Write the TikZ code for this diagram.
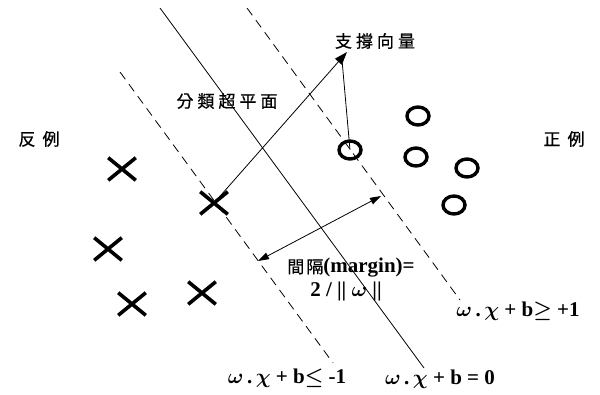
\documentclass[tikz,border=0pt]{standalone}
\usepackage{bm}
\usepackage{fontspec}
\setmainfont{Liberation Serif}
\newfontfamily\cjk[FakeBold=0.6]{Noto Sans CJK TC}
\usetikzlibrary{shapes.misc,shapes.geometric,arrows.meta}
\newcommand{\cjkgap}{\hspace{4pt}}
\newcommand{\bw}{$\bm{\omega}$}
\newcommand{\bx}{$\bm{\chi}$}
\begin{document}
\begin{tikzpicture}[x=1pt,y=-1pt,
  negpt/.style={cross out,draw,line width=3.6pt,minimum width=24pt,minimum height=19pt,inner sep=0pt},
  pospt/.style={ellipse,draw,line width=3.4pt,minimum width=22pt,minimum height=18pt,inner sep=0pt},
  hyper/.style={line width=0.8pt},
  dashhyper/.style={line width=0.8pt,dash pattern=on 9pt off 6pt},
  cjklab/.style={font=\cjk\fontsize{17}{19}\selectfont,inner sep=0pt},
  eqlab/.style={font=\bfseries\fontsize{21}{23}\selectfont,inner sep=0pt},
  thinarrow/.style={line width=0.8pt}]
\useasboundingbox (0,0) rectangle (600,394);
% hyperplanes
\coordinate (s1) at (160,8);
\coordinate (s2) at (424,368);
\coordinate (r1) at (247,8);
\coordinate (r2) at (460,300);
\coordinate (l1) at (120,72);
\coordinate (l2) at (333,363);
\draw[hyper] (s1) -- (s2);
\draw[dashhyper] (r1) -- (r2);
\draw[dashhyper] (l1) -- (l2);
% negative samples
\node[negpt] (n1) at (122,169) {};
\node[negpt] (n2) at (214,203) {};
\node[negpt] (n3) at (108,249) {};
\node[negpt] (n4) at (132,304) {};
\node[negpt] (n5) at (202,293) {};
% positive samples
\node[pospt] (p1) at (418,116) {};
\node[pospt] (p2) at (416,157) {};
\node[pospt] (p3) at (467,168) {};
\node[pospt] (p4) at (454,205) {};
\node[pospt] (p5) at (350,150) {};
% labels
\node[cjklab] (sv) at (375,41) {支\cjkgap 撐\cjkgap 向\cjkgap 量};
\node[cjklab] (hp) at (227,101) {分\cjkgap 類\cjkgap 超\cjkgap 平\cjkgap 面};
\node[cjklab] (neg) at (39,139) {反\hspace{7pt}例};
\node[cjklab] (pos) at (564,139) {正\hspace{7pt}例};
\node[inner sep=0pt] (mg1) at (351,268) {{\cjk\fontsize{17}{19}\selectfont 間\hspace{2pt}隔}{\bfseries\fontsize{21}{23}\selectfont (margin)=}};
\node[eqlab] (mg2) at (346,291) {2 / || \bw{} ||};
\node[eqlab] (eq1) at (518,311) {\bw\,.\,\bx{} + b$\bm{\geq}$ +1};
\node[eqlab] (eq2) at (287,378) {\bw\,.\,\bx{} + b$\bm{\leq}$ -1};
\node[eqlab] (eq0) at (440,379) {\bw\,.\,\bx{} + b = 0};
% support vector arrows
\coordinate (tip) at (347,52);
\coordinate (tipbase) at (342,60);
\draw[thinarrow,-{Triangle[length=13pt,width=9pt]}] (n2.center) -- (tip);
\draw[thinarrow] (p5.center) -- (tipbase);
% margin arrow
\coordinate (ma) at (381,196);
\coordinate (mb) at (258,261);
\draw[thinarrow,{Triangle[length=11pt,width=7pt]}-{Triangle[length=11pt,width=7pt]}] (ma) -- (mb);
\end{tikzpicture}
\end{document}
